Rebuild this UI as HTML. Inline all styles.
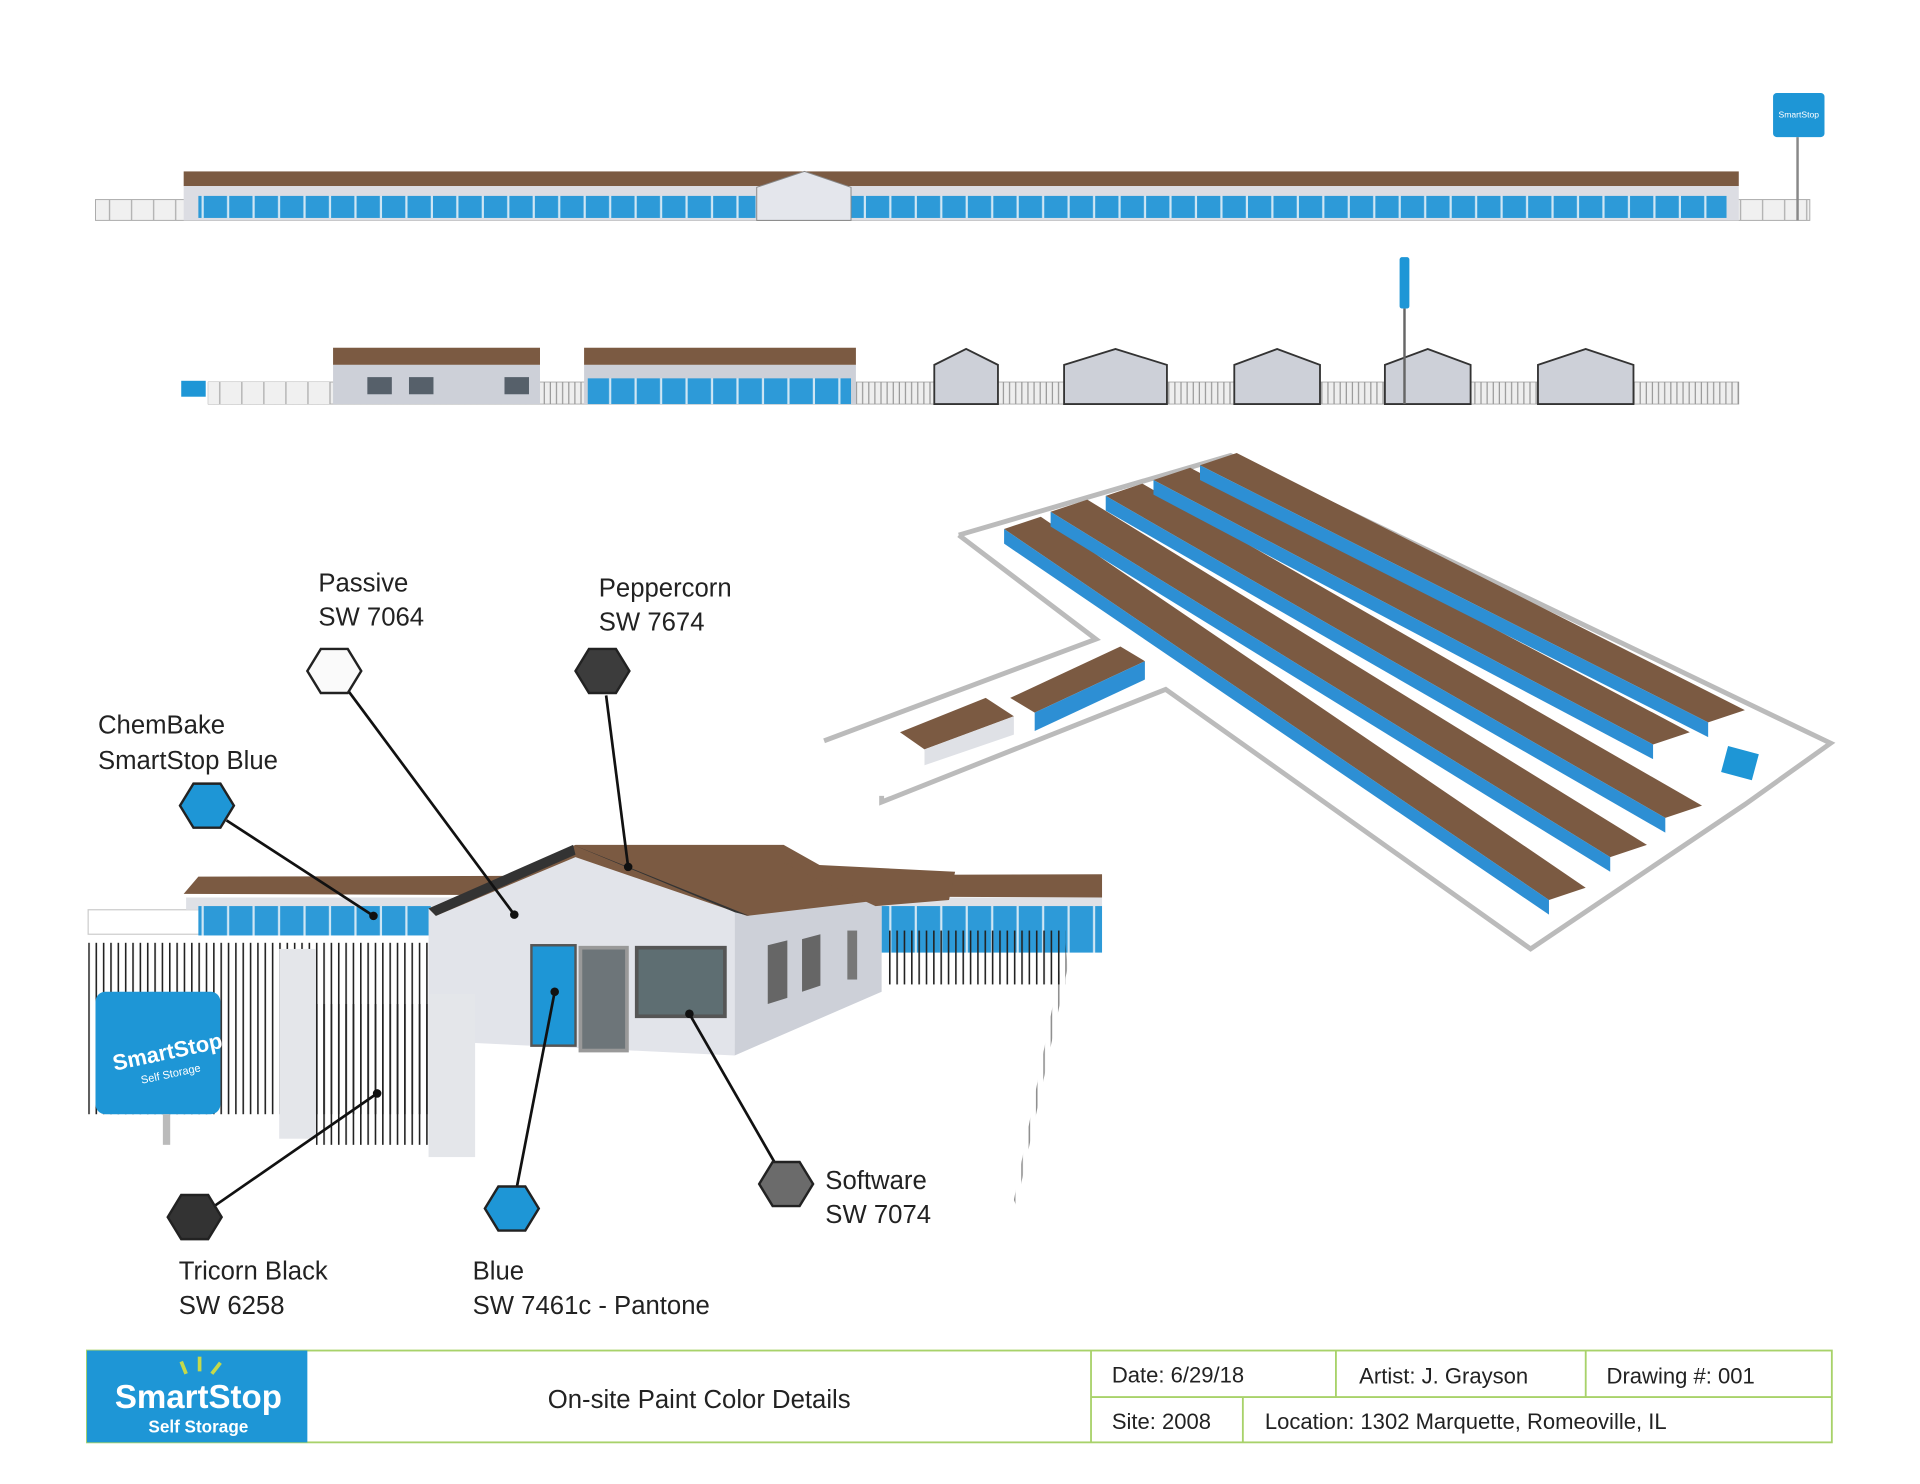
<!DOCTYPE html>
<html><head><meta charset="utf-8"><style>
html,body{margin:0;padding:0;background:#fff}
svg{display:block}
text{font-family:"Liberation Sans",sans-serif;fill:#222}
</style></head><body>
<svg width="1920" height="1484" viewBox="0 0 1568 1212" preserveAspectRatio="none" xmlns="http://www.w3.org/2000/svg">
<defs>
<pattern id="bu" width="20.8" height="20" patternUnits="userSpaceOnUse"><rect width="20.8" height="20" fill="#2d9ad8"/><rect x="19" width="1.8" height="20" fill="#cfe6f4"/></pattern>
<pattern id="fe" width="18" height="20" patternUnits="userSpaceOnUse"><rect width="18" height="20" fill="#f0f0f0"/><rect x="17" width="1" height="20" fill="#aaa"/></pattern>
<pattern id="fe2" width="5" height="20" patternUnits="userSpaceOnUse"><rect width="5" height="20" fill="#eee"/><rect x="4" width="1" height="20" fill="#999"/></pattern>
<pattern id="bars" width="6" height="20" patternUnits="userSpaceOnUse"><rect x="0" width="1.3" height="20" fill="#222"/></pattern>
</defs>
<rect x="78" y="163" width="1400" height="17" fill="url(#fe)" stroke="#aaa" stroke-width="0.8"/>
<rect x="150" y="140" width="1270" height="12" fill="#7b5a42"/>
<rect x="150" y="152" width="1270" height="28" fill="#dcdde3"/>
<rect x="162" y="160" width="455" height="18" fill="url(#bu)"/>
<rect x="692" y="160" width="718" height="18" fill="url(#bu)"/>
<polygon points="618,153 657,140 695,153 695,180 618,180" fill="#e4e6ec" stroke="#888" stroke-width="0.8"/>
<rect x="1448" y="76" width="42" height="36" rx="3" fill="#1e96d6"/>
<text x="1469" y="96" font-size="7" text-anchor="middle" style="fill:#fff">SmartStop</text>
<rect x="1467" y="112" width="2" height="68" fill="#888"/>
<rect x="170" y="312" width="1250" height="18" fill="url(#fe2)" stroke="#999" stroke-width="0.6"/>
<rect x="170" y="312" width="100" height="18" fill="url(#fe)"/>
<rect x="272" y="284" width="169" height="14" fill="#7b5a42"/>
<rect x="272" y="298" width="169" height="32" fill="#cdd0d8"/>
<rect x="300" y="308" width="20" height="14" fill="#56606a"/><rect x="334" y="308" width="20" height="14" fill="#56606a"/><rect x="412" y="308" width="20" height="14" fill="#56606a"/>
<rect x="477" y="284" width="222" height="14" fill="#7b5a42"/>
<rect x="477" y="298" width="222" height="32" fill="#cdd0d8"/>
<rect x="480" y="309" width="215" height="21" fill="url(#bu)"/>
<g fill="#cdd0d8" stroke="#333" stroke-width="1.5">
<polygon points="763,298 789,285 815,298 815,330 763,330"/>
<polygon points="869,298 911,285 953,298 953,330 869,330"/>
<polygon points="1008,298 1043,285 1078,298 1078,330 1008,330"/>
<polygon points="1131,298 1166,285 1201,298 1201,330 1131,330"/>
<polygon points="1256,298 1295,285 1334,298 1334,330 1256,330"/>
</g>
<rect x="1143" y="210" width="8" height="42" rx="2" fill="#1e96d6"/>
<rect x="1146" y="252" width="2" height="78" fill="#666"/>
<rect x="148" y="311" width="20" height="13" fill="#1e96d6"/>
<g fill="none" stroke="#bbb" stroke-width="4">
<polyline points="783,437 1005,372 1495,607 1425,657 1250,775 952,563 720,655 720,650"/>
<polyline points="783,437 895,522 673,605"/>
</g>
<g>
<polygon points="820,432 850,422 1295,725 1265,735" fill="#7b5a42"/>
<polygon points="820,432 1265,735 1265,747 820,444" fill="#2d8fd4"/>
<polygon points="858,418 888,408 1345,690 1315,700" fill="#7b5a42"/>
<polygon points="858,418 1315,700 1315,712 858,430" fill="#2d8fd4"/>
<polygon points="903,405 933,395 1390,658 1360,668" fill="#7b5a42"/>
<polygon points="903,405 1360,668 1360,680 903,417" fill="#2d8fd4"/>
<polygon points="942,392 972,382 1380,598 1350,608" fill="#7b5a42"/>
<polygon points="942,392 1350,608 1350,620 942,404" fill="#2d8fd4"/>
<polygon points="980,380 1010,370 1425,580 1395,590" fill="#7b5a42"/>
<polygon points="980,380 1395,590 1395,602 980,392" fill="#2d8fd4"/>
<polygon points="825,570 915,528 935,540 845,582" fill="#7b5a42"/>
<polygon points="845,582 935,540 935,555 845,597" fill="#2d8fd4"/>
<polygon points="735,598 805,570 828,585 755,612" fill="#7b5a42"/>
<polygon points="755,612 828,585 828,600 755,625" fill="#dfe1e6"/>
<rect x="1408" y="612" width="26" height="22" fill="#1e96d6" transform="rotate(15 1420 623)"/>
</g>
<rect x="72" y="743" width="300" height="20" fill="none" stroke="#ccc"/>
<polygon points="150,730 162,716 900,714 900,733" fill="#7b5a42"/>
<rect x="152" y="733" width="748" height="10" fill="#dfe1e6"/>
<rect x="162" y="740" width="190" height="24" fill="url(#bu)"/>
<rect x="720" y="740" width="180" height="38" fill="url(#bu)"/>
<polygon points="350,742 470,690 600,745 600,862 350,850" fill="#e2e4ea"/>
<polygon points="600,745 720,735 720,810 600,862" fill="#cdd0d8"/>
<polygon points="350,742 470,690 640,690 720,735 610,748 470,700 356,748" fill="#7b5a42"/>
<polygon points="468,690 600,745 612,748 478,694" fill="#333"/>
<polygon points="350,742 468,690 470,698 356,748" fill="#333"/>
<polygon points="640,705 780,712 775,735 715,740" fill="#7b5a42"/>
<rect x="434" y="772" width="36" height="82" fill="#1e96d6" stroke="#555" stroke-width="2"/>
<rect x="474" y="774" width="38" height="84" fill="#6d7579" stroke="#999" stroke-width="3"/>
<rect x="520" y="774" width="72" height="56" fill="#5e6e72" stroke="#555" stroke-width="3"/>
<polygon points="627,772 643,768 643,815 627,820" fill="#666"/>
<polygon points="655,767 670,763 670,805 655,810" fill="#666"/>
<rect x="692" y="760" width="8" height="40" fill="#777"/>
<rect x="72" y="770" width="280" height="140" fill="url(#bars)"/>
<rect x="725" y="760" width="145" height="44" fill="url(#bars)"/>
<polygon points="828,980 870,770 872,790 830,985" fill="url(#bars)" opacity="0.5"/>
<rect x="228" y="775" width="30" height="155" fill="#e4e6ea"/>
<rect x="350" y="812" width="38" height="133" fill="#e4e6ea"/>
<rect x="258" y="820" width="92" height="115" fill="url(#bars)"/>
<rect x="78" y="810" width="102" height="100" rx="8" fill="#1e96d6"/>
<text x="138" y="865" font-size="18" text-anchor="middle" transform="rotate(-12 138 865)" style="fill:#fff;font-weight:bold">SmartStop</text>
<text x="140" y="880" font-size="9" text-anchor="middle" transform="rotate(-12 140 880)" style="fill:#fff">Self Storage</text>
<rect x="133" y="910" width="6" height="25" fill="#bbb"/>
<g stroke="#111" stroke-width="2.2" fill="none">
<line x1="285" y1="565" x2="420" y2="747"/>
<line x1="495" y1="568" x2="513" y2="708"/>
<line x1="185" y1="670" x2="305" y2="748"/>
<line x1="175" y1="985" x2="308" y2="893"/>
<line x1="422" y1="970" x2="453" y2="810"/>
<line x1="633" y1="950" x2="563" y2="828"/>
</g>
<g fill="#111"><circle cx="420" cy="747" r="3.5"/><circle cx="513" cy="708" r="3.5"/><circle cx="305" cy="748" r="3.5"/><circle cx="308" cy="893" r="3.5"/><circle cx="453" cy="810" r="3.5"/><circle cx="563" cy="828" r="3.5"/></g>
<g stroke="#222" stroke-width="2">
<polygon points="251,548 262,530 284,530 295,548 284,566 262,566" fill="#fafafa"/>
<polygon points="470,548 481,530 503,530 514,548 503,566 481,566" fill="#3c3c3c"/>
<polygon points="147,658 158,640 180,640 191,658 180,676 158,676" fill="#1e96d6"/>
<polygon points="137,994 148,976 170,976 181,994 170,1012 148,1012" fill="#333"/>
<polygon points="396,987 407,969 429,969 440,987 429,1005 407,1005" fill="#1e96d6"/>
<polygon points="620,967 631,949 653,949 664,967 653,985 631,985" fill="#6b6b6b"/>
</g>
<g font-size="21">
<text x="260" y="483">Passive</text><text x="260" y="511">SW 7064</text>
<text x="489" y="487">Peppercorn</text><text x="489" y="515">SW 7674</text>
<text x="80" y="599">ChemBake</text><text x="80" y="628">SmartStop Blue</text>
<text x="146" y="1045">Tricorn Black</text><text x="146" y="1073">SW 6258</text>
<text x="386" y="1045">Blue</text><text x="386" y="1073">SW 7461c - Pantone</text>
<text x="674" y="971">Software</text><text x="674" y="999">SW 7074</text>
</g>
<g stroke="#a8d26a" stroke-width="1.5" fill="none">
<rect x="71" y="1103" width="1425" height="75"/>
<line x1="891" y1="1103" x2="891" y2="1178"/>
<line x1="891" y1="1141" x2="1496" y2="1141"/>
<line x1="1091" y1="1103" x2="1091" y2="1141"/>
<line x1="1295" y1="1103" x2="1295" y2="1141"/>
<line x1="1015" y1="1141" x2="1015" y2="1178"/>
</g>
<rect x="71" y="1103" width="180" height="75" fill="#1e96d6"/>
<text x="162" y="1150" font-size="27" font-weight="bold" text-anchor="middle" style="fill:#fff">SmartStop</text>
<text x="162" y="1170" font-size="14" font-weight="bold" text-anchor="middle" style="fill:#fff">Self Storage</text>
<g stroke="#c5d94a" stroke-width="3"><line x1="152" y1="1122" x2="148" y2="1112"/><line x1="163" y1="1120" x2="163" y2="1108"/><line x1="173" y1="1122" x2="180" y2="1113"/></g>
<text x="571" y="1150" font-size="21" text-anchor="middle">On-site Paint Color Details</text>
<g font-size="18">
<text x="908" y="1129">Date: 6/29/18</text>
<text x="1110" y="1130">Artist: J. Grayson</text>
<text x="1312" y="1130">Drawing #: 001</text>
<text x="908" y="1167">Site: 2008</text>
<text x="1033" y="1167">Location: 1302 Marquette, Romeoville, IL</text>
</g>
</svg>
</body></html>
